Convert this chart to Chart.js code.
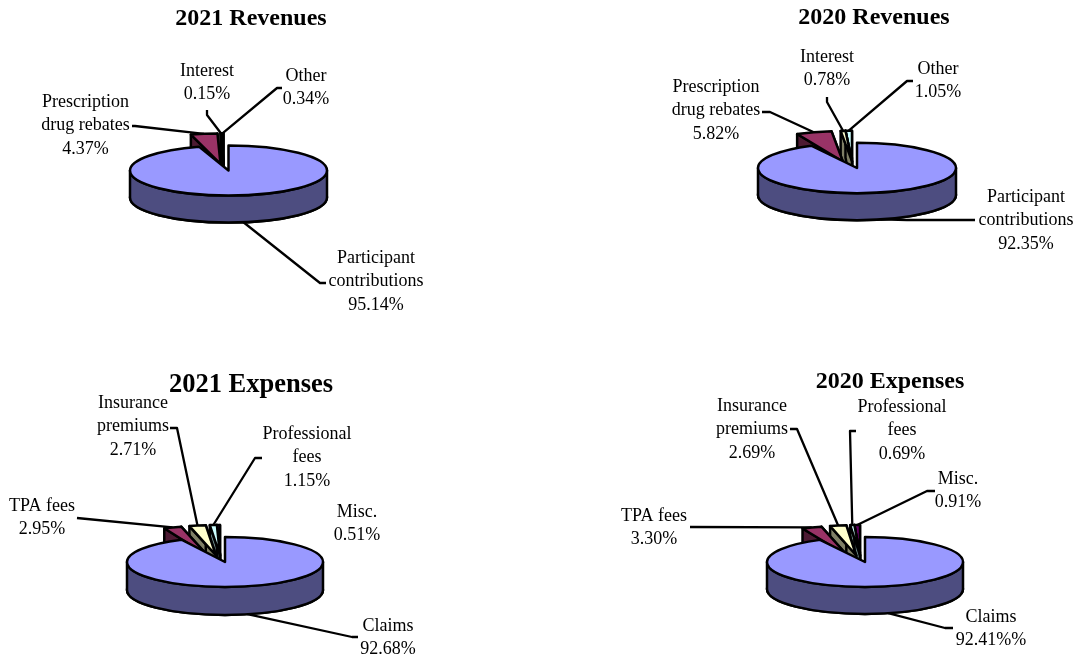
<!DOCTYPE html>
<html>
<head>
<meta charset="utf-8">
<title>Revenues and expenses</title>
<script src="https://cdn.jsdelivr.net/npm/chart.js@4/dist/chart.umd.min.js"></script>
<style>
  html, body { margin: 0; padding: 0; background: #fff; overflow: hidden; }
  #page { position: relative; width: 1076px; height: 658px; }
  canvas { position: absolute; left: 0; top: 0; }
</style>
</head>
<body>
<div id="page">
  <canvas id="rev2021" width="1076" height="658"></canvas>
  <canvas id="rev2020" width="1076" height="658"></canvas>
  <canvas id="exp2021" width="1076" height="658"></canvas>
  <canvas id="exp2020" width="1076" height="658"></canvas>
</div>
<script>
// data
const revenueNames = [['Participant', 'contributions'], ['Prescription', 'drug rebates'], ['Interest'], ['Other']]
const expenseNames = [['Claims'], ['TPA fees'], ['Insurance', 'premiums'], ['Professional', 'fees'], ['Misc.']]

const rev2021Values = [95.14, 4.37, 0.15, 0.34]
const rev2020Values = [92.35, 5.82, 0.78, 1.05]
const exp2021Values = [92.68, 2.95, 2.71, 1.15, 0.51]
const exp2020Values = [92.41, 3.30, 2.69, 0.69, 0.91]

// the source really prints 92.41%% on the last pie
const rev2021Text = ['95.14%', '4.37%', '0.15%', '0.34%']
const rev2020Text = ['92.35%', '5.82%', '0.78%', '1.05%']
const exp2021Text = ['92.68%', '2.95%', '2.71%', '1.15%', '0.51%']
const exp2020Text = ['92.41%%', '3.30%', '2.69%', '0.69%', '0.91%']

const sliceColors = ['#9999ff', '#993366', '#ffffcc', '#ccffff', '#660066']
const wallColors = ['#4d4d80', '#4d1a33', '#808066', '#668080', '#330033']
const revenueColors = [sliceColors[0], sliceColors[1], sliceColors[2], sliceColors[3]]

const SQUASH = 0.254
const EXPLODE = 48
const APEX_LIFT = 0.55 // the tips of the pulled out slices rise less than their rims
const LINE_HEIGHT = 23.5
const FONT = '"Liberation Serif", "Times New Roman", serif'

// label placement for every pie: [center x, first line y], leader: points from the label towards the slice
const pies = [
  {
    id: 'rev2021', title: '2021 Revenues', titleX: 251, titleY: 19, titleSize: 24,
    cx: 228.5, cy: 170.5, radius: 98.5, depth: 27,
    names: revenueNames, values: rev2021Values, text: rev2021Text,
    labelPos: [[376, 258], [85.5, 102], [207, 71], [306, 76]],
    leaders: [[[326, 283], [320, 283]], [[132, 126], [135, 126]], [[207, 110], [207, 115]], [[282, 88], [277, 88]]]
  },
  {
    id: 'rev2020', title: '2020 Revenues', titleX: 874, titleY: 18, titleSize: 24,
    cx: 857, cy: 168, radius: 99, depth: 27,
    names: revenueNames, values: rev2020Values, text: rev2020Text,
    labelPos: [[1026, 197], [716, 87], [827, 57], [938, 69]],
    leaders: [[[975, 220], [907, 220]], [[762, 112], [770, 112]], [[827, 97], [827, 102]], [[913, 81], [907, 81]]]
  },
  {
    id: 'exp2021', title: '2021 Expenses', titleX: 251, titleY: 385, titleSize: 26.5,
    cx: 225, cy: 562, radius: 98, depth: 28,
    names: expenseNames, values: exp2021Values, text: exp2021Text,
    labelPos: [[388, 626], [42, 506], [133, 403], [307, 434], [357, 512]],
    leaders: [[[358, 637], [352, 637]], [[77, 518]], [[170, 428], [177, 428]], [[262, 458], [255, 458]], null]
  },
  {
    id: 'exp2020', title: '2020 Expenses', titleX: 890, titleY: 382, titleSize: 24,
    cx: 865, cy: 562, radius: 98, depth: 27,
    names: expenseNames, values: exp2020Values, text: exp2020Text,
    labelPos: [[991, 617], [654, 516], [752, 406], [902, 407], [958, 479]],
    leaders: [[[953, 628], [945, 628]], [[690, 527]], [[790, 429], [797, 429]], [[856, 431], [850, 431]], [[935, 491], [927, 491]]]
  }
]

const explodeOffset = (arc, index) => {
  if (index === 0) return { dx: 0, dy: 0 }
  // angles start at -90deg, so 12 o'clock is -PI/2 in canvas terms
  const mid = (arc.startAngle + arc.endAngle) / 2
  return {
    dx: Math.min(Math.cos(mid) * EXPLODE, -5),
    dy: Math.sin(mid) * EXPLODE * SQUASH
  }
}

const paint = (ctx, fill) => {
  ctx.fillStyle = fill
  ctx.fill()
  ctx.stroke()
}

const sectorPath = (ctx, x, y, r, a0, a1, tipDrop) => {
  ctx.save()
  ctx.translate(x, y)
  ctx.scale(1, SQUASH)
  ctx.beginPath()
  ctx.moveTo(0, tipDrop / SQUASH)
  ctx.arc(0, 0, r, a0, a1)
  ctx.closePath()
  ctx.restore()
}

const bandPath = (ctx, x, y, r, a0, a1, depth) => {
  ctx.save()
  ctx.translate(x, y)
  ctx.scale(1, SQUASH)
  ctx.beginPath()
  ctx.arc(0, 0, r, a0, a1)
  ctx.arc(0, depth / SQUASH, r, a1, a0, true)
  ctx.closePath()
  ctx.restore()
}

const drawSlice = (ctx, arc, index, pie) => {
  const { dx, dy } = explodeOffset(arc, index)
  const x = arc.x + dx
  const y = arc.y + dy
  const tipDrop = -dy * (1 - APEX_LIFT)
  const r = arc.outerRadius
  const a0 = arc.startAngle
  const a1 = arc.endAngle
  const wall = wallColors[index]

  sectorPath(ctx, x, y + pie.depth, r, a0, a1, tipDrop)
  paint(ctx, wall)

  if (index > 0) {
    [a0, a1].forEach(a => {
      const px = x + Math.cos(a) * r
      const py = y + Math.sin(a) * r * SQUASH
      ctx.beginPath()
      ctx.moveTo(x, y + tipDrop)
      ctx.lineTo(px, py)
      ctx.lineTo(px, py + pie.depth)
      ctx.lineTo(x, y + tipDrop + pie.depth)
      ctx.closePath()
      paint(ctx, wall)
    })
  }

  // only the part of the rim facing the viewer has a visible wall
  const from = Math.max(a0, 0)
  const to = Math.min(a1, Math.PI)
  if (to > from) {
    bandPath(ctx, x, y, r, from, to, pie.depth)
    paint(ctx, wall)
  }

  sectorPath(ctx, x, y, r, a0, a1, tipDrop)
  paint(ctx, arc.options.backgroundColor)
}

const drawLeader = (ctx, arc, index, pie) => {
  const points = pie.leaders[index]
  if (!points) return
  const { dx, dy } = explodeOffset(arc, index)
  const mid = (arc.startAngle + arc.endAngle) / 2
  const front = Math.sin(mid) > 0 ? pie.depth : 0
  const endX = arc.x + dx + Math.cos(mid) * arc.outerRadius
  const endY = arc.y + dy + Math.sin(mid) * arc.outerRadius * SQUASH + front

  ctx.beginPath()
  ctx.moveTo(points[0][0], points[0][1])
  points.slice(1).forEach(p => ctx.lineTo(p[0], p[1]))
  ctx.lineTo(endX, endY)
  ctx.stroke()
}

const drawTexts = (ctx, pie) => {
  ctx.fillStyle = '#000'
  ctx.textAlign = 'center'
  ctx.textBaseline = 'middle'

  ctx.font = `bold ${pie.titleSize}px ${FONT}`
  ctx.fillText(pie.title, pie.titleX, pie.titleY)

  ctx.font = `18px ${FONT}`
  pie.labelPos.forEach((pos, i) => {
    const lines = [...pie.names[i], pie.text[i]]
    lines.forEach((line, n) => ctx.fillText(line, pos[0], pos[1] + n * LINE_HEIGHT))
  })
}

// draws the tilted pie from the arcs the pie controller worked out
const tiltedPie = {
  id: 'tiltedPie',
  beforeDatasetDraw(chart) {
    const pie = chart.options.plugins.tiltedPie.pie
    const ctx = chart.ctx
    const arcs = chart.getDatasetMeta(0).data

    ctx.save()
    ctx.lineJoin = 'round'
    ctx.strokeStyle = '#000'
    ctx.lineWidth = 2.3

    arcs.forEach((arc, i) => drawLeader(ctx, arc, i, pie))

    ctx.lineWidth = 2.5
    // back slices first, the big one last
    for (let i = arcs.length - 1; i >= 0; i--) {
      drawSlice(ctx, arcs[i], i, pie)
    }
    drawTexts(ctx, pie)
    ctx.restore()
    return false
  }
}

const W = 1076
const H = 658

pies.forEach(pie => {
  new Chart(document.getElementById(pie.id), {
    type: 'pie',
    data: {
      labels: pie.names.map(n => n.join(' ')),
      datasets: [{
        data: pie.values,
        backgroundColor: pie.values.length === 4 ? revenueColors : sliceColors,
        borderWidth: 0
      }]
    },
    options: {
      responsive: false,
      animation: false,
      radius: pie.radius,
      layout: {
        // pushes the chart area so its center lands on the pie center
        padding: {
          left: Math.max(2 * pie.cx - W, 0),
          right: Math.max(W - 2 * pie.cx, 0),
          top: Math.max(2 * pie.cy - H, 0),
          bottom: Math.max(H - 2 * pie.cy, 0)
        }
      },
      plugins: {
        legend: { display: false },
        tooltip: { enabled: false },
        tiltedPie: { pie: pie }
      }
    },
    plugins: [tiltedPie]
  })
})
</script>
</body>
</html>
